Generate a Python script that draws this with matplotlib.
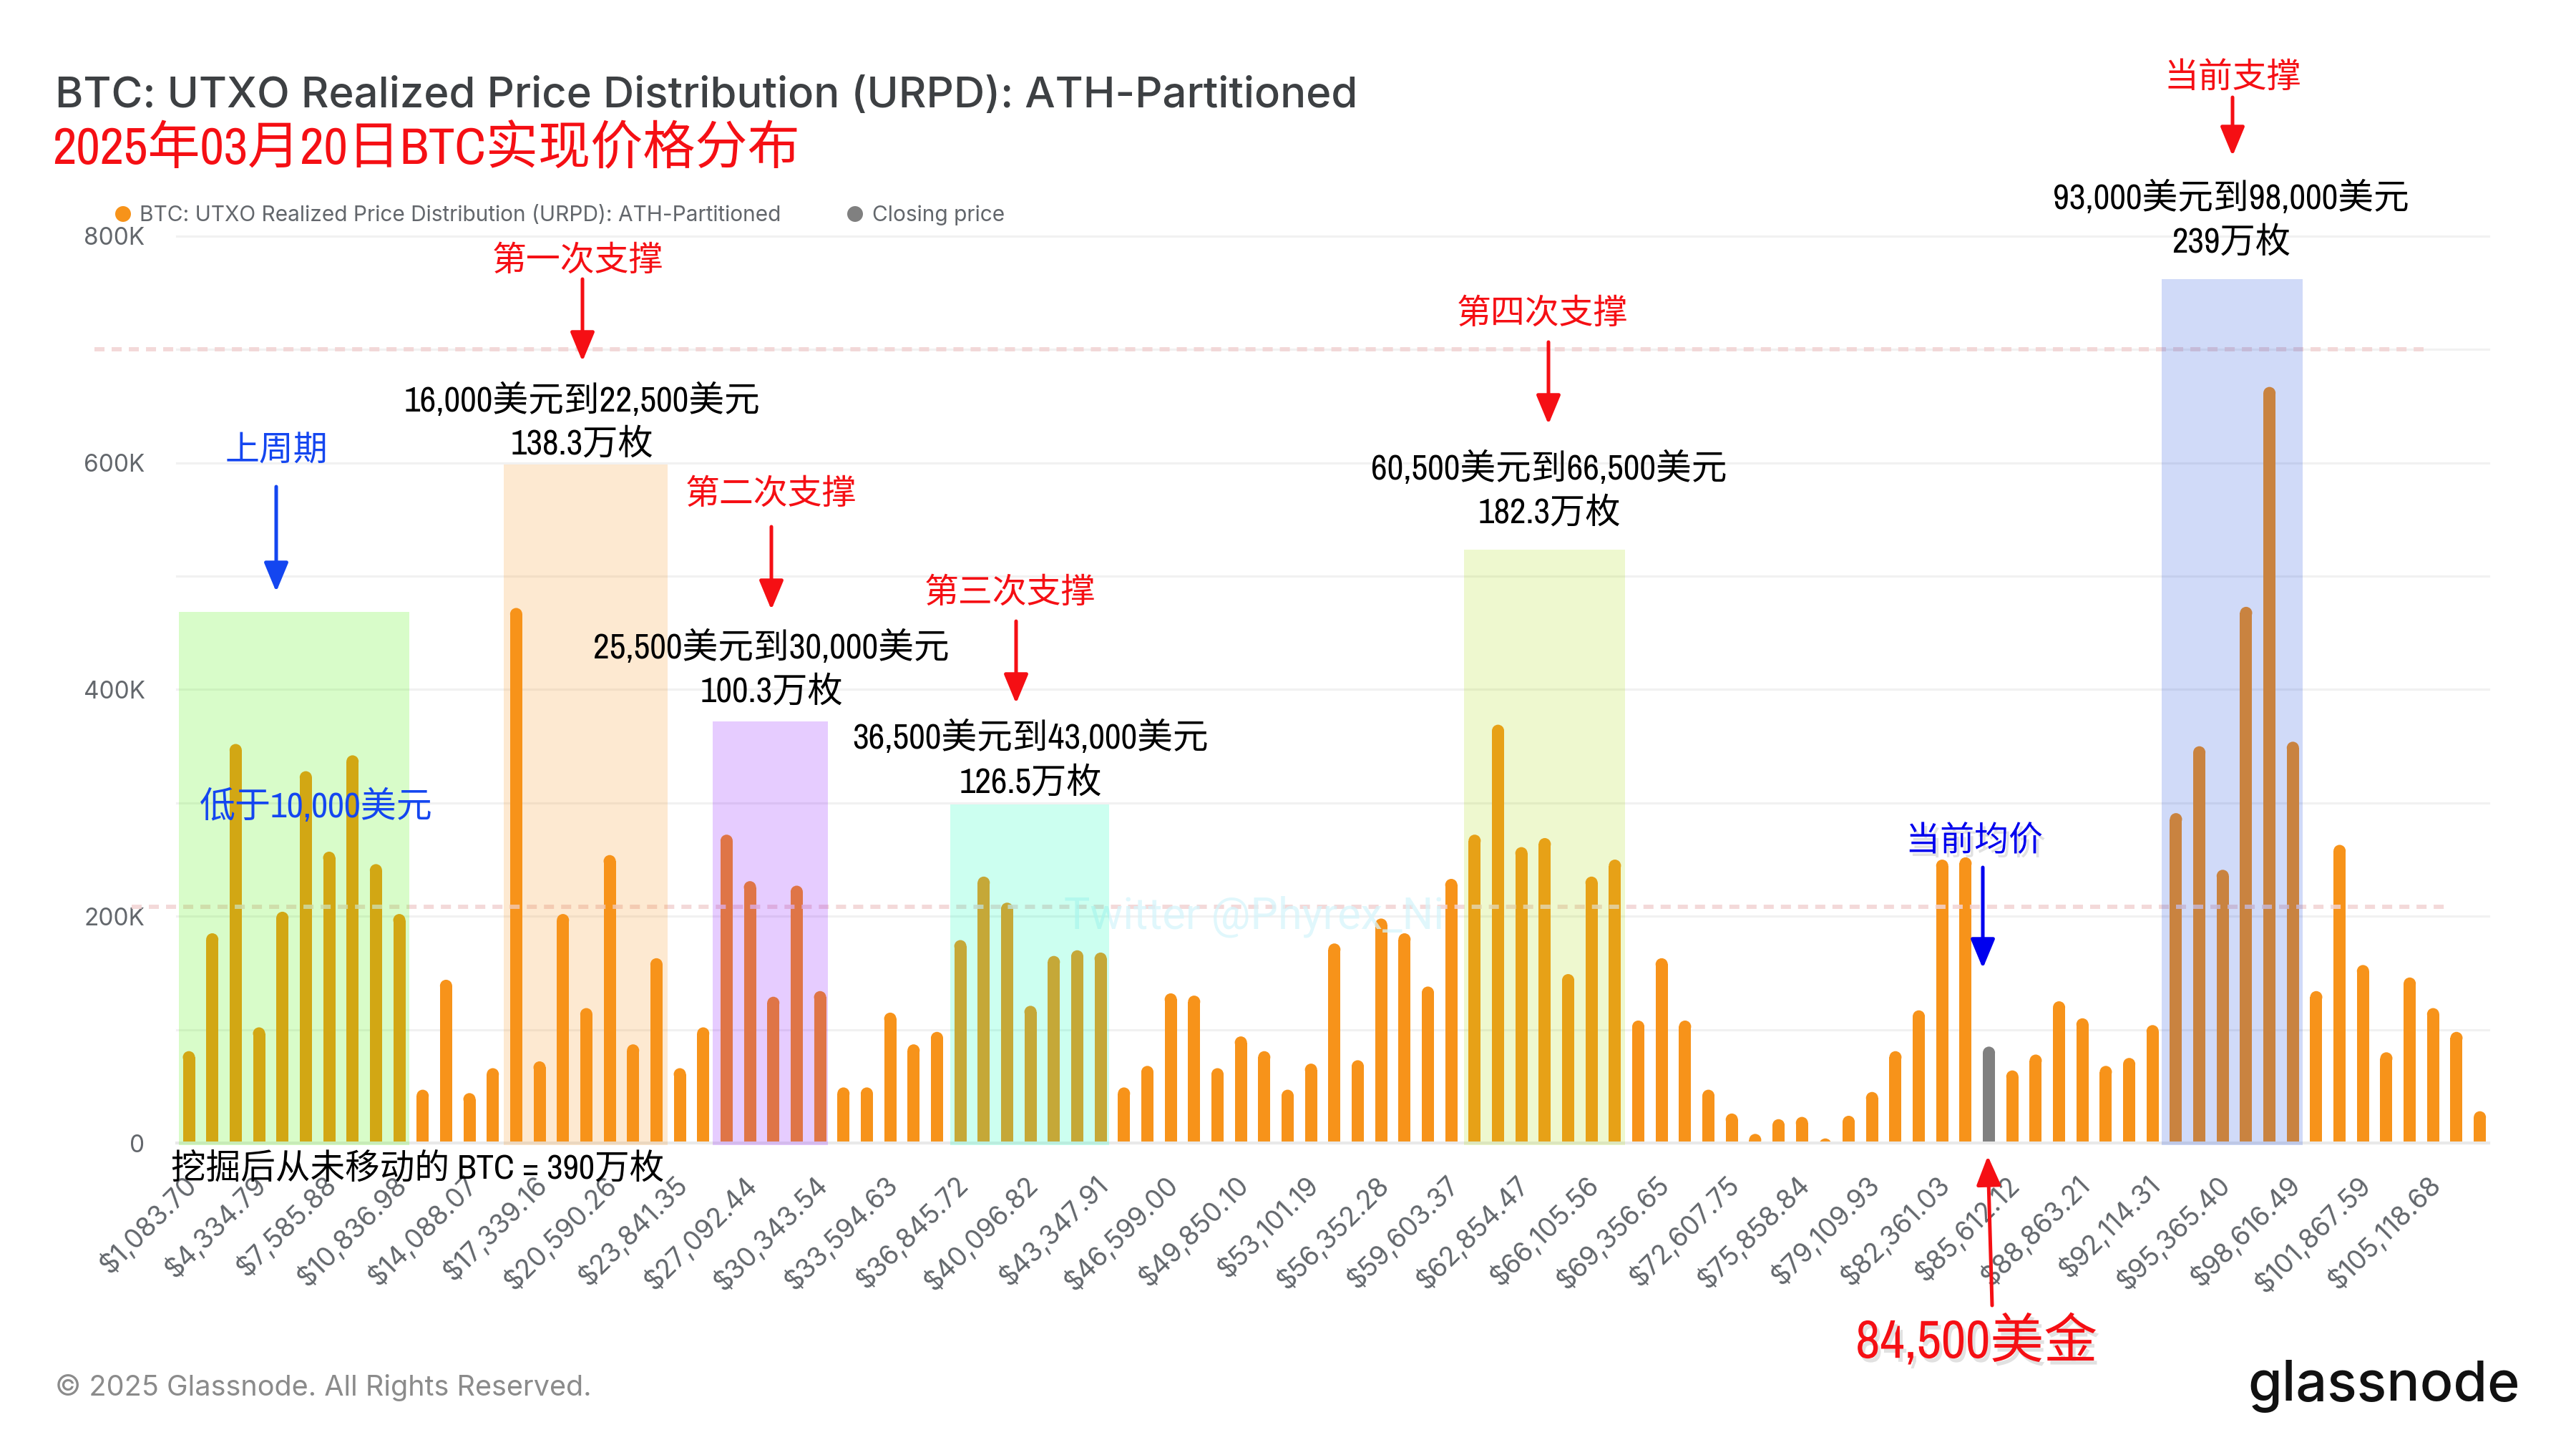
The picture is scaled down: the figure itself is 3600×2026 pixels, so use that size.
import matplotlib
matplotlib.use("Agg")
import matplotlib.pyplot as plt
import matplotlib.patheffects as pe
import matplotlib.font_manager as fm
from matplotlib.patches import Rectangle, FancyArrowPatch, Circle
from matplotlib.ticker import MultipleLocator, FixedLocator, FuncFormatter
from matplotlib.transforms import ScaledTranslation
import numpy as np

W, H = 3600, 2026
values = [81, 185, 352, 102, 204, 328, 257, 342, 246, 202,
          47, 144, 44, 66, 472, 72, 202, 119, 254, 87,
          163, 66, 102, 272, 231, 129, 227, 134, 49, 49,
          115, 87, 98, 179, 235, 212, 121, 165, 170, 168,
          49, 68, 132, 130, 66, 94, 81, 47, 70, 176,
          73, 198, 185, 138, 233, 272, 369, 261, 269, 149,
          235, 250, 108, 163, 108, 47, 26, 8, 21, 23,
          4, 24, 45, 81, 117, 250, 252, 85, 64, 78,
          125, 110, 68, 75, 104, 291, 350, 241, 473, 667,
          354, 134, 263, 157, 80, 146, 119, 98, 28]
closing_index = 77
tick_labels = ["$1,083.70", "$4,334.79", "$7,585.88", "$10,836.98", "$14,088.07", "$17,339.16",
               "$20,590.26", "$23,841.35", "$27,092.44", "$30,343.54", "$33,594.63", "$36,845.72",
               "$40,096.82", "$43,347.91", "$46,599.00", "$49,850.10", "$53,101.19", "$56,352.28",
               "$59,603.37", "$62,854.47", "$66,105.56", "$69,356.65", "$72,607.75", "$75,858.84",
               "$79,109.93", "$82,361.03", "$85,612.12", "$88,863.21", "$92,114.31", "$95,365.40",
               "$98,616.49", "$101,867.59", "$105,118.68"]
ORANGE, GREY = "#F7931A", "#808080"
INK = "#63676c"

UI = ["Inter", "DejaVu Sans"]
flist = fm.fontManager.ttflist
narrow_name = next((f.name for f in flist if "Narrow" in f.name or "Condensed" in f.name), None)
dj_cond = any(f.name == "DejaVu Sans" and "condensed" in str(f.stretch) for f in flist)
STRETCH = "normal"
if narrow_name:
    CJK = [narrow_name, "Noto Sans CJK SC", "DejaVu Sans"]
    F = 1.0
elif dj_cond:
    CJK = ["DejaVu Sans", "Noto Sans CJK SC"]
    STRETCH = "condensed"
    F = 1.0
else:
    CJK = ["Roboto", "Noto Sans CJK SC", "DejaVu Sans"]
    F = 0.955

fig = plt.figure(figsize=(W / 100, H / 100), dpi=100, facecolor="white")

# --- main chart -------------------------------------------------------
L, R, T, B = 247, 3478, 330, 1597
ax = fig.add_axes([L / W, 1 - B / H, (R - L) / W, (B - T) / H])
step = 32.67
x0 = 264
ax.set_xlim((L - x0) / step, (R - x0) / step)
ax.set_ylim(0, 800000)
y = np.array(values) * 1000.0
x = np.arange(len(y))
colors = [GREY if i == closing_index else ORANGE for i in x]
px_y = 800000 / (B - T)
cap = 8.5 * px_y
ax.bar(x, np.maximum(y - cap, 0), width=17 / step, color=colors, linewidth=0, zorder=3)
ax.scatter(x, y - cap, s=150, c=colors, linewidths=0, zorder=3)
for s in ax.spines.values():
    s.set_visible(False)
ax.yaxis.set_major_locator(MultipleLocator(200000))
ax.yaxis.set_minor_locator(MultipleLocator(100000))
ax.yaxis.set_major_formatter(FuncFormatter(lambda v, _: "0" if v == 0 else f"{int(v / 1000)}K"))
ax.grid(True, which="both", axis="y", color="#f1f1f1", lw=2.2, zorder=0, clip_on=False)
for ln in ax.get_ygridlines():
    ln.set_clip_on(False)
ax.axhline(0, color="#e9e9e9", lw=3, zorder=4, clip_on=False)
ax.tick_params(axis="y", which="both", length=0, pad=32, labelsize=24, labelcolor=INK)
ax.xaxis.set_major_locator(FixedLocator(np.arange(0, len(y), 3)))
ax.set_xticklabels(tick_labels, rotation=45, ha="right", rotation_mode="anchor",
                   fontsize=26.8, color=INK, family=UI)
ax.tick_params(axis="x", length=0, pad=28)
shift = ScaledTranslation(-9 / 100, 0, fig.dpi_scale_trans)
for t in ax.get_xticklabels():
    t.set_transform(t.get_transform() + shift)
for t in ax.get_yticklabels():
    t.set_family(UI)

# --- overlay in image pixels -------------------------------------------
ov = fig.add_axes([0, 0, 1, 1])
ov.set_xlim(0, W)
ov.set_ylim(H, 0)
ov.axis("off")

zones = [(250, 572, 855, "#4AF500", .21), (704, 933, 649, "#F7931A", .2),
         (996, 1157, 1008, "#8200FF", .2), (1328, 1550, 1124, "#00FFB4", .2),
         (2046, 2271, 768, "#AADC0F", .2), (3021, 3218, 390, "#1446DC", .2)]
for a, b, top, c, al in zones:
    ov.add_patch(Rectangle((a, top), b - a, B + 3 - top, facecolor=c, alpha=al, lw=0, zorder=1))

for yy, a, b in [(488, 132, 3387), (1267, 184, 3424)]:
    ov.plot([a, b], [yy, yy], color="#F2D3D3", lw=4.3, alpha=.85, solid_capstyle="butt",
            linestyle=(0, (2.35, 1.67)), dash_capstyle="butt", zorder=0.5)

ov.text(1487, 1297, "Twitter @Phyrex_Ni", color="#D6F5FB", fontsize=44, family=["Roboto", "DejaVu Sans"],
        va="baseline", alpha=.75, zorder=0.6)


def txt(x_, y_, s, color="black", size=34.5, ha="center", family=None, **kw):
    if family is None:
        family = CJK
        size = size * F
        y_ = y_ + 4
        kw["fontstretch"] = STRETCH
    return ov.text(x_, y_, s, color=color, fontsize=size, ha=ha, va="center", family=family, zorder=6, **kw)


def arrow(x1, y1, x2, y2, color, lw=3.6):
    ov.add_patch(FancyArrowPatch((x1, y1), (x2, y2), arrowstyle="-|>,head_length=1.25,head_width=.52",
                                 mutation_scale=20, color=color, lw=lw, shrinkA=0, shrinkB=0, zorder=5))


RED = "#F50F14"
BLUE = "#1446F0"
shadow = [pe.withSimplePatchShadow(offset=(3, -4), shadow_rgbFace="#aaaaaa", alpha=.35)]

txt(77, 134, "BTC: UTXO Realized Price Distribution (URPD): ATH-Partitioned", color="#3d4043",
    size=43.1, ha="left", family=UI, fontweight="medium")
txt(73, 204, "2025年03月20日BTC实现价格分布", color=RED, size=52.7, ha="left")

ov.add_patch(Circle((172, 299), 11, color=ORANGE, lw=0))
txt(195, 301, "BTC: UTXO Realized Price Distribution (URPD): ATH-Partitioned", color=INK, size=21.5,
    ha="left", family=UI)
ov.add_patch(Circle((1195, 299), 11, color=GREY, lw=0))
txt(1219, 301, "Closing price", color=INK, size=21.5, ha="left", family=UI)

notes = [(807, 360, "第一次支撑", 814, 390, 505, "16,000美元到22,500美元", "138.3万枚", 813, 556, 617),
         (1078, 686, "第二次支撑", 1078, 736, 852, "25,500美元到30,000美元", "100.3万枚", 1078, 901, 963),
         (1412, 824, "第三次支撑", 1420, 868, 983, "36,500美元到43,000美元", "126.5万枚", 1440, 1027, 1090),
         (2156, 434, "第四次支撑", 2164, 478, 593, "60,500美元到66,500美元", "182.3万枚", 2165, 651, 713),
         (3120, 104, "当前支撑", 3120, 136, 218, "93,000美元到98,000美元", "239万枚", 3118, 273, 335)]
for xl, yl, lab, xa, ya1, ya2, rng, amt, xr, y1, y2 in notes:
    txt(xl, yl, lab, color=RED)
    arrow(xa, ya1, xa, ya2, RED)
    txt(xr, y1, rng, size=35.8)
    txt(xr, y2, amt, size=35.5)

txt(386, 626, "上周期", color=BLUE)
arrow(386, 680, 386, 827, BLUE)
txt(442, 1123, "低于10,000美元", color=BLUE, size=36)
txt(239, 1628, "挖掘后从未移动的 BTC = 390万枚", ha="left", size=35)
txt(2759, 1170, "当前均价", color="#0000EE", path_effects=shadow)
arrow(2771, 1212, 2771, 1353, "#0000EE")
arrow(2784, 1824, 2778, 1615, RED)
txt(2762, 1870, "84,500美金", color=RED, size=54, path_effects=shadow)

txt(77, 1939, "© 2025 Glassnode. All Rights Reserved.", color="#8b8b8b", size=28.5, ha="left", family=UI)
ov.text(3332, 1957, "glassnode", color="#111111", fontsize=55.5, ha="center", va="baseline",
        family=["Inter", "DejaVu Sans"], fontweight="medium", zorder=6)

fig.savefig("out.png", dpi=100, facecolor="white")
